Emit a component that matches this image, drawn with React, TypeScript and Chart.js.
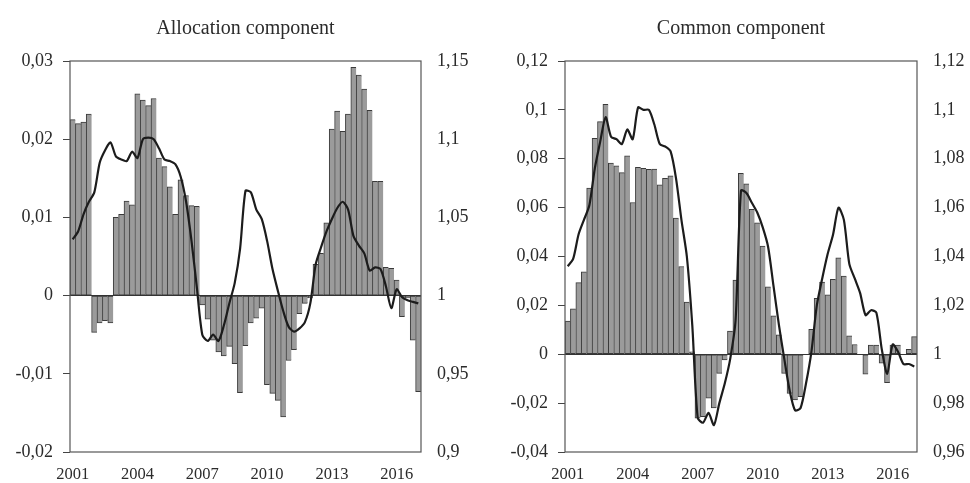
import React, { useEffect, useRef } from 'react';
import { Chart, registerables } from 'chart.js';

Chart.register(...registerables);

// ---------- DATA ----------
const categories = [
  '2001Q1', '2001Q2', '2001Q3', '2001Q4', '2002Q1', '2002Q2', '2002Q3', '2002Q4',
  '2003Q1', '2003Q2', '2003Q3', '2003Q4', '2004Q1', '2004Q2', '2004Q3', '2004Q4',
  '2005Q1', '2005Q2', '2005Q3', '2005Q4', '2006Q1', '2006Q2', '2006Q3', '2006Q4',
  '2007Q1', '2007Q2', '2007Q3', '2007Q4', '2008Q1', '2008Q2', '2008Q3', '2008Q4',
  '2009Q1', '2009Q2', '2009Q3', '2009Q4', '2010Q1', '2010Q2', '2010Q3', '2010Q4',
  '2011Q1', '2011Q2', '2011Q3', '2011Q4', '2012Q1', '2012Q2', '2012Q3', '2012Q4',
  '2013Q1', '2013Q2', '2013Q3', '2013Q4', '2014Q1', '2014Q2', '2014Q3', '2014Q4',
  '2015Q1', '2015Q2', '2015Q3', '2015Q4', '2016Q1', '2016Q2', '2016Q3', '2016Q4',
  '2017Q1',
];

const xTickYears = ['2001', '2004', '2007', '2010', '2013', '2016'];

const allocationBars = [
  0.0225, 0.0220, 0.0222, 0.0232,
  -0.0047, -0.0035, -0.0032, -0.0035,
  0.0100, 0.0104, 0.0121, 0.0116,
  0.0258, 0.0250, 0.0243, 0.0252,
  0.0176, 0.0165, 0.0139, 0.0104,
  0.0148, 0.0128, 0.0115, 0.0114,
  -0.0012, -0.0030, -0.0057, -0.0072,
  -0.0077, -0.0065, -0.0087, -0.0124,
  -0.0064, -0.0035, -0.0029, -0.0016,
  -0.0114, -0.0125, -0.0134, -0.0155,
  -0.0083, -0.0069, -0.0023, -0.0010,
  -0.0003, 0.0040, 0.0054, 0.0093,
  0.0213, 0.0236, 0.0210, 0.0232,
  0.0292, 0.0282, 0.0264, 0.0237,
  0.0146, 0.0146, 0.0036, 0.0035,
  0.0020, -0.0027, -0.0003, -0.0057,
  -0.0123,
];

const allocationLine = [
  1.036, 1.041, 1.052, 1.060, 1.066, 1.085, 1.093, 1.098,
  1.089, 1.087, 1.086, 1.092, 1.088, 1.100, 1.101, 1.100,
  1.094, 1.087, 1.086, 1.084, 1.076, 1.060, 1.035, 1.005,
  0.975, 0.971, 0.975, 0.971, 0.981, 0.995, 1.008, 1.030,
  1.067, 1.066, 1.055, 1.049, 1.035, 1.017, 1.003, 0.990,
  0.980, 0.977, 0.979, 0.983, 0.995, 1.020, 1.031, 1.041,
  1.049, 1.056, 1.060, 1.055, 1.038, 1.032, 1.027, 1.016,
  1.018, 1.017, 1.006, 0.992, 1.004, 0.999, 0.997, 0.996,
  0.995,
];

const commonBars = [
  0.0136, 0.0186, 0.0293, 0.0337,
  0.0680, 0.0884, 0.0952, 0.1023,
  0.0782, 0.0771, 0.0743, 0.0812,
  0.0621, 0.0765, 0.0761, 0.0757,
  0.0758, 0.0693, 0.0720, 0.0730,
  0.0557, 0.0359, 0.0213, 0.0010,
  -0.0262, -0.0255, -0.0180, -0.0220,
  -0.0078, -0.0023, 0.0095, 0.0304,
  0.0740, 0.0697, 0.0593, 0.0538,
  0.0443, 0.0276, 0.0157, 0.0079,
  -0.0078, -0.0160, -0.0187, -0.0174,
  0.0000, 0.0102, 0.0229, 0.0295,
  0.0243, 0.0307, 0.0395, 0.0320,
  0.0075, 0.0040, 0.0000, -0.0082,
  0.0038, 0.0038, -0.0037, -0.0116,
  0.0038, 0.0038, 0.0000, 0.0020,
  0.0072,
];

const commonLine = [
  1.036, 1.039, 1.049, 1.055, 1.061, 1.076, 1.087, 1.097,
  1.089, 1.088, 1.086, 1.092, 1.088, 1.101, 1.100, 1.100,
  1.094, 1.086, 1.085, 1.083, 1.072, 1.055, 1.040, 1.012,
  0.974, 0.972, 0.976, 0.971, 0.980, 0.988, 0.998, 1.014,
  1.067, 1.066, 1.062, 1.058, 1.052, 1.044, 1.028, 1.012,
  0.998, 0.985, 0.977, 0.978, 0.988, 1.001, 1.020, 1.031,
  1.041, 1.049, 1.060, 1.055, 1.037, 1.031, 1.025, 1.016,
  1.018, 1.017, 1.002, 0.992, 1.004, 1.001, 0.996, 0.996,
  0.995,
];

const allocationLeftTicks = ['-0,02', '-0,01', '0', '0,01', '0,02', '0,03'];
const allocationRightTicks = ['0,9', '0,95', '1', '1,05', '1,1', '1,15'];
const commonLeftTicks = ['-0,04', '-0,02', '0', '0,02', '0,04', '0,06', '0,08', '0,1', '0,12'];
const commonRightTicks = ['0,96', '0,98', '1', '1,02', '1,04', '1,06', '1,08', '1,1', '1,12'];

// ---------- STYLE ----------
const FONT = 'Liberation Serif, Times New Roman, serif';
const TEXT = '#2b2b2b';

const framePlugin = {
  id: 'frame',
  afterDatasetsDraw(chart: any) {
    const { ctx, chartArea: a } = chart;
    ctx.save();
    ctx.strokeStyle = '#555555';
    ctx.lineWidth = 1.2;
    ctx.strokeRect(a.left, a.top, a.right - a.left, a.bottom - a.top);
    ctx.restore();
  },
};

interface PanelSpec {
  title: string;
  bars: number[];
  line: number[];
  leftMin: number; leftMax: number; leftStep: number; leftTicks: string[];
  rightMin: number; rightMax: number; rightStep: number; rightTicks: string[];
  leftWidth: number; rightWidth: number;
}

function makeConfig(p: PanelSpec): any {
  return {
    type: 'bar',
    data: {
      labels: categories,
      datasets: [
        {
          type: 'line',
          data: p.line,
          yAxisID: 'y1',
          borderColor: '#1c1c1c',
          borderWidth: 2.2,
          pointRadius: 0,
          tension: 0.25,
          fill: false,
          order: 0,
        },
        {
          type: 'bar',
          data: p.bars,
          yAxisID: 'y',
          backgroundColor: '#9b9b9b',
          borderColor: '#3a3a3a',
          borderWidth: { left: 1, right: 0, top: 1, bottom: 1 },
          borderSkipped: false,
          barPercentage: 1,
          categoryPercentage: 1,
          order: 1,
        },
      ],
    },
    options: {
      responsive: false,
      animation: false,
      events: [],
      layout: { padding: 0 },
      plugins: {
        legend: { display: false },
        tooltip: { enabled: false },
        title: {
          display: true,
          text: p.title,
          fullSize: false,
          color: TEXT,
          font: { family: FONT, size: 20, weight: 'normal' },
          padding: { top: 17, bottom: 20 },
        },
      },
      scales: {
        x: {
          type: 'category',
          offset: true,
          grid: { display: false, drawTicks: false },
          border: { display: false },
          ticks: {
            autoSkip: false,
            maxRotation: 0,
            minRotation: 0,
            padding: 13,
            color: TEXT,
            font: { family: FONT, size: 16.5 },
            callback: (_v: any, i: number) => {
              const c = categories[i];
              const yr = c.slice(0, 4);
              return c.endsWith('Q1') && xTickYears.includes(yr) ? yr : '';
            },
          },
          afterFit: (s: any) => { s.height = 31; },
        },
        y: {
          position: 'left',
          min: p.leftMin,
          max: p.leftMax,
          grid: {
            color: (ctx: any) => (ctx.tick && Math.abs(ctx.tick.value) < 1e-9 ? '#333333' : 'rgba(0,0,0,0)'),
            lineWidth: 1,
            drawTicks: true,
            tickLength: 7,
            tickColor: '#444444',
            tickWidth: 1,
          },
          border: { display: false },
          ticks: {
            stepSize: p.leftStep,
            padding: 10,
            color: TEXT,
            font: { family: FONT, size: 18 },
            callback: (_v: any, i: number) => p.leftTicks[i],
          },
          afterFit: (s: any) => { s.width = p.leftWidth; },
        },
        y1: {
          position: 'right',
          min: p.rightMin,
          max: p.rightMax,
          grid: { display: false, drawTicks: false },
          border: { display: false },
          ticks: {
            stepSize: p.rightStep,
            padding: 16,
            color: TEXT,
            font: { family: FONT, size: 18 },
            callback: (_v: any, i: number) => p.rightTicks[i],
          },
          afterFit: (s: any) => { s.width = p.rightWidth; },
        },
      },
    },
    plugins: [framePlugin],
  };
}

function Panel({ spec }: { spec: PanelSpec }) {
  const ref = useRef<HTMLCanvasElement | null>(null);
  useEffect(() => {
    if (!ref.current) return;
    const chart = new Chart(ref.current, makeConfig(spec));
    return () => chart.destroy();
  }, [spec]);
  return <canvas ref={ref} width={485} height={483} style={{ width: 485, height: 483, display: 'block' }} />;
}

const allocationSpec: PanelSpec = {
  title: 'Allocation component',
  bars: allocationBars,
  line: allocationLine,
  leftMin: -0.02, leftMax: 0.03, leftStep: 0.01, leftTicks: allocationLeftTicks,
  rightMin: 0.9, rightMax: 1.15, rightStep: 0.05, rightTicks: allocationRightTicks,
  leftWidth: 70, rightWidth: 64,
};

const commonSpec: PanelSpec = {
  title: 'Common component',
  bars: commonBars,
  line: commonLine,
  leftMin: -0.04, leftMax: 0.12, leftStep: 0.02, leftTicks: commonLeftTicks,
  rightMin: 0.96, rightMax: 1.12, rightStep: 0.02, rightTicks: commonRightTicks,
  leftWidth: 80, rightWidth: 53,
};

export default function App() {
  return (
    <div style={{ position: 'absolute', left: 0, top: 0, width: 970, height: 483, background: '#ffffff', display: 'flex' }}>
      <Panel spec={allocationSpec} />
      <Panel spec={commonSpec} />
    </div>
  );
}
